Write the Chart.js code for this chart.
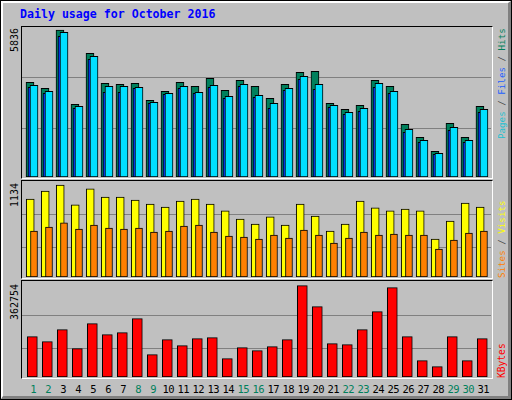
<!DOCTYPE html>
<html><head><meta charset="utf-8">
<script src="https://cdn.jsdelivr.net/npm/chart.js@4"></script>
<style>
body{margin:0;background:#fff}
#wrap{position:relative;width:512px;height:400px;background:#c0c0c0;box-sizing:border-box;border:1px solid #000;overflow:hidden}
#bev{position:absolute;left:0;top:0;width:510px;height:398px;box-sizing:border-box;border-top:2px solid #fff;border-left:2px solid #fff;border-right:3px solid #808080;border-bottom:3px solid #808080}
canvas{position:absolute}
.fr{position:absolute;box-sizing:border-box;border-top:1px solid #000;border-left:1px solid #000;border-right:1px solid #fff;border-bottom:1px solid #fff}
.t{position:absolute;white-space:pre;font-family:"DejaVu Sans Mono",monospace;transform-origin:0 0;transform:rotate(-90deg);line-height:10px}
#title{position:absolute;left:19px;top:6px;font:bold 11.6px "DejaVu Sans Mono",monospace;color:#0000ff}
.d{position:absolute;top:382px;font:10.5px "DejaVu Sans Mono",monospace;letter-spacing:-0.6px;transform:translateX(-50%)}
</style></head><body>
<div id="wrap"><div id="bev"></div>
<div id="title">Daily usage for October 2016</div>
<div class="fr" style="left:20px;top:25px;width:472px;height:153px"></div>
<div class="fr" style="left:20px;top:179px;width:472px;height:99px"></div>
<div class="fr" style="left:20px;top:279px;width:472px;height:99px"></div>
<canvas id="c1" width="469" height="150" style="left:21px;top:26px"></canvas>
<canvas id="c2" width="469" height="96" style="left:21px;top:180px"></canvas>
<canvas id="c3" width="469" height="96" style="left:21px;top:280px"></canvas>
<div class="t" style="left:9px;top:51px;font-size:10px">5836</div>
<div class="t" style="left:9px;top:206px;font-size:10px">1134</div>
<div class="t" style="left:9px;top:319px;font-size:10px">362754</div>
<div class="t" style="left:496px;top:138px;font-size:9.2px"><span style="color:#20c0d0">Pages</span><span style="color:#404040"> / </span><span style="color:#2060ff">Files</span><span style="color:#404040"> / </span><span style="color:#00805c">Hits</span></div>
<div class="t" style="left:496px;top:277px;font-size:9.2px"><span style="color:#ff8000">Sites</span><span style="color:#404040"> / </span><span style="color:#ffff00">Visits</span></div>
<div class="t" style="left:496px;top:377px;font-size:9.6px;color:#ff0000">KBytes</div>
<div id="days"></div>
</div>
<script>
const days=[1,2,3,4,5,6,7,8,9,10,11,12,13,14,15,16,17,18,19,20,21,22,23,24,25,26,27,28,29,30,31];
const weekend=[1,2,8,9,15,16,22,23,29,30];
const hits=[3760,3521,5836,2886,4911,3720,3680,3720,3045,3402,3760,3601,3918,3442,3839,3601,3124,3680,4156,4196,2926,2688,2846,3839,3601,2092,1576,1020,2132,1576,2807];
const files=[3640,3402,5745,2807,4792,3601,3601,3561,2966,3323,3601,3363,3640,3204,3680,3243,2926,3521,3998,3680,2846,2569,2727,3720,3402,1894,1457,941,1973,1457,2688];
const pages=[3561,3323,5586,2727,4673,3363,3363,3521,2926,3283,3521,3323,3561,3124,3601,3164,2727,3442,3879,3482,2767,2489,2608,3561,3323,1775,1378,901,1854,1378,2569];
const visits=[961,1060,1134,888,1085,986,986,949,900,863,937,961,900,814,715,653,740,641,900,752,567,653,937,851,814,838,814,468,690,912,863];
const sites=[567,616,666,592,641,604,592,604,555,567,629,641,555,505,493,468,518,481,579,518,419,481,555,518,530,518,518,345,456,542,567];
const kbytes=[160200,140340,188000,112540,211840,168150,176090,231700,88710,148290,124460,152260,156230,72820,116510,104600,120480,148290,362754,279360,132400,128430,188000,259500,354830,160200,64880,41040,160200,64880,152260];

const pts=(arr,off)=>arr.map((v,i)=>({x:days[i]+off,y:v}));
const grid={id:'grid',beforeDatasetsDraw(ch,a,o){const c=ch.ctx,y=ch.scales.y,ar=ch.chartArea;c.save();c.strokeStyle='#808080';c.lineWidth=1;
 for(const v of o.vals){const p=Math.round(y.getPixelForValue(v))+0.5;c.beginPath();c.moveTo(ar.left,p);c.lineTo(ar.right,p);c.stroke();}c.restore();}};
function mk(id,max,gv,sets){
 return new Chart(document.getElementById(id),{type:'bar',
  data:{datasets:sets.map(s=>({data:s.d,backgroundColor:s.c,borderColor:'#000',borderWidth:1,barThickness:s.w,grouped:false,order:s.o,borderSkipped:false}))},
  options:{responsive:false,animation:false,layout:{padding:0},events:[],
   plugins:{legend:{display:false},tooltip:{enabled:false},grid:{vals:gv}},
   scales:{x:{type:'linear',min:0.5,max:31.77,offset:false,display:false},y:{min:0,max:max,display:false}}},
  plugins:[grid]});
}
mk('c1',5955,[1945,3970],[
 {d:pts(files,0.3),c:'#00e0ff',w:8,o:0},
 {d:pts(pages,0.167),c:'#0040ff',w:8,o:1},
 {d:pts(hits,0.033),c:'#00805c',w:8,o:2}]);
mk('c2',1183,[370,777],[
 {d:pts(sites,0.3),c:'#ff8000',w:7,o:0},
 {d:pts(visits,0.05),c:'#ffff00',w:8,o:1}]);
const c3=mk('c3',381430,[116800,247900],[
 {d:pts(kbytes,0.19),c:'#ff0000',w:10,o:0}]);
const dd=document.getElementById('days');
days.forEach(d=>{const s=document.createElement('div');s.className='d';s.textContent=d;
 s.style.left=(21+c3.scales.x.getPixelForValue(d+0.25))+'px';
 s.style.color=weekend.includes(d)?'#00805c':'#000';dd.appendChild(s);});
</script></body></html>
